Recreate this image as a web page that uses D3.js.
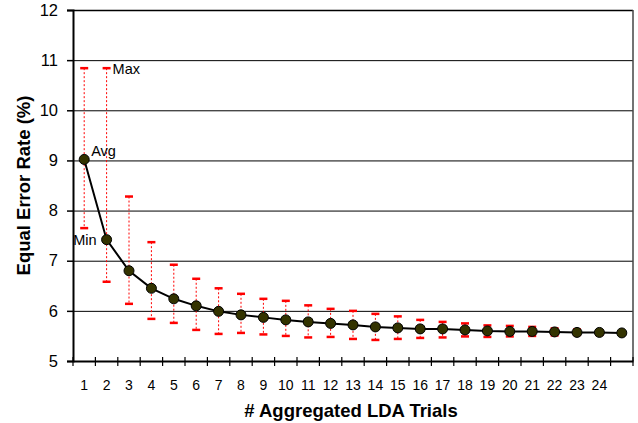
<!DOCTYPE html>
<html><head><meta charset="utf-8">
<script src="https://cdn.jsdelivr.net/npm/d3@7/dist/d3.min.js"></script>
<style>body{margin:0;background:#fff;font-family:"Liberation Sans",Arial,sans-serif;}</style>
</head><body><svg id="c" width="638" height="423"></svg>
<script>
const trials = d3.range(1, 26);
const tickLabels = trials.map(t => t <= 24 ? String(t) : "");
const avgValues = [9.02, 7.42, 6.80, 6.45, 6.24, 6.10, 5.99, 5.92, 5.87, 5.82, 5.78, 5.75, 5.72, 5.68, 5.66, 5.64, 5.64, 5.62, 5.60, 5.59, 5.59, 5.58, 5.57, 5.57, 5.56];
const maxValues = [10.84, 10.84, 8.28, 7.37, 6.92, 6.64, 6.45, 6.34, 6.24, 6.20, 6.11, 6.04, 6.00, 5.94, 5.89, 5.82, 5.78, 5.75, 5.71, 5.70, 5.68, 5.65, 5.63, 5.61, null];
const minValues = [7.65, 6.58, 6.14, 5.84, 5.76, 5.62, 5.54, 5.56, 5.53, 5.50, 5.47, 5.48, 5.44, 5.42, 5.44, 5.46, 5.47, 5.49, 5.48, 5.49, 5.50, 5.51, 5.52, 5.52, null];
const yTicks = [5, 6, 7, 8, 9, 10, 11, 12];

const svg = d3.select("#c");
const L = 73, R = 633, T = 10, B = 361;
const FF = "Liberation Sans, Arial, sans-serif";
const x = d3.scaleBand().domain(trials).range([L, R]).padding(0);
const y = d3.scaleLinear().domain([5, 12]).range([B, T]);
const cx = d => x(d) + x.bandwidth() / 2;

// gridlines
svg.append("g").selectAll("line").data(yTicks.filter(v => v > 5)).join("line")
  .attr("x1", L).attr("x2", R).attr("y1", d => y(d) + 0.5).attr("y2", d => y(d) + 0.5)
  .attr("stroke", "#000").attr("stroke-width", d => d === 12 ? 1.5 : 1);
// right border
svg.append("line").attr("x1", R).attr("x2", R).attr("y1", T).attr("y2", B)
  .attr("stroke", "#444").attr("stroke-width", 1.5);

// error bars
const eb = svg.append("g");
trials.forEach((t, i) => {
  if (maxValues[i] == null) return;
  eb.append("line").attr("x1", cx(t)).attr("x2", cx(t))
    .attr("y1", y(maxValues[i])).attr("y2", y(minValues[i]))
    .attr("stroke", "#ff0000").attr("stroke-width", 1).attr("stroke-dasharray", "2,2");
  [maxValues[i], minValues[i]].forEach(v => {
    eb.append("line").attr("x1", cx(t) - 4).attr("x2", cx(t) + 4)
      .attr("y1", y(v)).attr("y2", y(v))
      .attr("stroke", "#ff0000").attr("stroke-width", 2.5);
  });
});

// axes
const yAxis = d3.axisLeft(y).tickValues(yTicks).tickSize(6).tickFormat(d3.format("d"));
const gy = svg.append("g").attr("transform", `translate(${L},0)`).call(yAxis);
gy.select(".domain").attr("stroke-width", 2);
gy.selectAll(".tick line").attr("stroke-width", 1.5);
gy.selectAll("text").attr("font-size", 16.5).attr("font-family", FF).attr("fill", "#000").attr("x", -15);

const xAxis = d3.axisBottom(x).tickSize(0).tickFormat((d, i) => tickLabels[i]);
const gx = svg.append("g").attr("transform", `translate(0,${B})`).call(xAxis);
gx.select(".domain").attr("stroke-width", 2);
gx.selectAll("text").attr("font-size", 14).attr("font-family", FF).attr("fill", "#000").attr("dy", "1.85em");
// band boundary ticks
const bounds = trials.map(t => x(t) + x.bandwidth()).concat([L]);
svg.append("g").selectAll("line").data(bounds).join("line")
  .attr("x1", d => d).attr("x2", d => d).attr("y1", B - 4).attr("y2", B + 5)
  .attr("stroke", "#000").attr("stroke-width", 1.2);

// line and markers
svg.append("path").datum(trials)
  .attr("d", d3.line().x(t => cx(t)).y((t, i) => y(avgValues[i])))
  .attr("fill", "none").attr("stroke", "#000").attr("stroke-width", 2);
svg.append("g").selectAll("circle").data(trials).join("circle")
  .attr("cx", t => cx(t)).attr("cy", (t, i) => y(avgValues[i])).attr("r", 5)
  .attr("fill", "#333300").attr("stroke", "#000").attr("stroke-width", 1);

// annotations
const ann = svg.append("g").attr("font-size", 14.5).attr("font-family", FF).attr("fill", "#000");
ann.append("text").attr("x", cx(2) + 6).attr("y", y(maxValues[1]) + 6).text("Max");
ann.append("text").attr("x", cx(1) + 7).attr("y", y(avgValues[0]) - 3).text("Avg");
ann.append("text").attr("x", cx(1) - 11).attr("y", y(minValues[0]) + 17).text("Min");

// titles
svg.append("text").attr("x", 351).attr("y", 417).attr("text-anchor", "middle")
  .attr("font-size", 18.5).attr("font-weight", "bold").attr("font-family", FF)
  .text("# Aggregated LDA Trials");
svg.append("text").attr("transform", `translate(30,${(T + B) / 2}) rotate(-90)`).attr("text-anchor", "middle")
  .attr("font-size", 18.5).attr("font-weight", "bold").attr("font-family", FF)
  .text("Equal Error Rate (%)");
</script></body></html>
